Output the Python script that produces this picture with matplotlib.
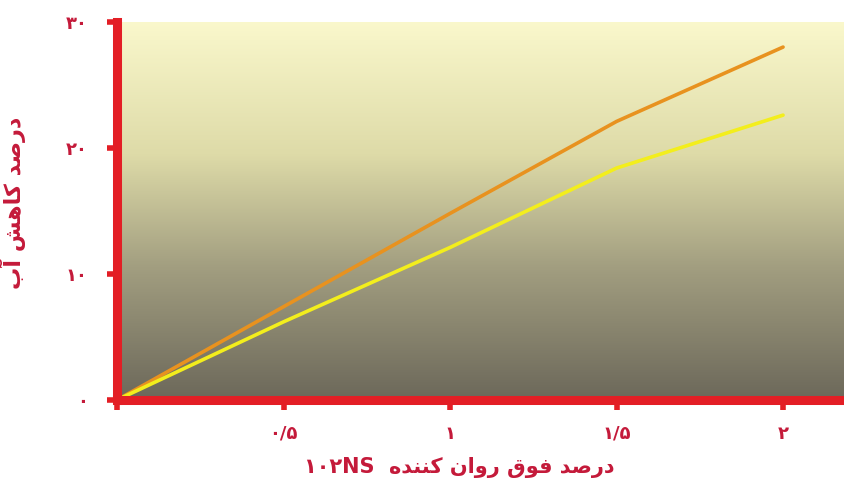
"""
درصد کاهش آب در برابر درصد فوق روان کننده
"""
import matplotlib
matplotlib.use("Agg")
import matplotlib.pyplot as plt
import numpy as np
from matplotlib.colors import LinearSegmentedColormap

# داده ها
x_vals = [0, 0.5, 1, 1.5, 2]
orange_vals = [0, 7.4, 14.8, 22.1, 28.0]
yellow_vals = [0, 6.2, 12.1, 18.4, 22.6]
x_ticks = [0, 0.5, 1, 1.5, 2]
x_tick_labels = ["", "۰/۵", "۱", "۱/۵", "۲"]
y_ticks = [0, 10, 20, 30]
y_tick_labels = ["۰", "۱۰", "۲۰", "۳۰"]

# شکل دهی دستی حروف فارسی (matplotlib خودش این کار را نمی کند)
FORMS = {
    "ا": ("\uFE8D", "\uFE8E", None, None),
    "آ": ("\uFE81", "\uFE82", None, None),
    "د": ("\uFEA9", "\uFEAA", None, None),
    "ر": ("\uFEAD", "\uFEAE", None, None),
    "و": ("\uFEED", "\uFEEE", None, None),
    "ب": ("\uFE8F", "\uFE90", "\uFE91", "\uFE92"),
    "ص": ("\uFEB9", "\uFEBA", "\uFEBB", "\uFEBC"),
    "ش": ("\uFEB5", "\uFEB6", "\uFEB7", "\uFEB8"),
    "ف": ("\uFED1", "\uFED2", "\uFED3", "\uFED4"),
    "ق": ("\uFED5", "\uFED6", "\uFED7", "\uFED8"),
    "ک": ("\uFED9", "\uFEDA", "\uFEDB", "\uFEDC"),
    "ن": ("\uFEE5", "\uFEE6", "\uFEE7", "\uFEE8"),
    "ه": ("\uFEE9", "\uFEEA", "\uFEEB", "\uFEEC"),
}


def dual(c):
    return c in FORMS and FORMS[c][2] is not None


def shape(text):
    out = []
    for i, c in enumerate(text):
        if c not in FORMS:
            out.append(c)
            continue
        prev = text[i - 1] if i > 0 else ""
        nxt = text[i + 1] if i < len(text) - 1 else ""
        jp = dual(prev)
        jn = dual(c) and nxt in FORMS
        iso, fin, ini, med = FORMS[c]
        if jp and jn:
            out.append(med)
        elif jp:
            out.append(fin)
        elif jn:
            out.append(ini)
        else:
            out.append(iso)
    return "".join(out)[::-1]


y_label = shape("درصد کاهش آب")
x_label = "۱۰۲NS  " + shape("درصد فوق روان کننده")

red = "#e31e25"
label_red = "#c41a3a"

plt.rcParams["font.family"] = ["DejaVu Sans"]

fig = plt.figure(figsize=(8.45, 4.86), dpi=100)
ax = fig.add_axes([0.1385, 0.177, 0.8615, 0.778])
ax.set_xlim(0, 2.186)
ax.set_ylim(0, 30)

# پس زمینه گرادیانی: روشن در بالا، تیره در پایین
cmap = LinearSegmentedColormap.from_list(
    "bg", [(0, "#faf8cc"), (0.35, "#dedba8"), (0.65, "#a29e80"), (1, "#6c685a")])
grad = np.linspace(0, 1, 256).reshape(-1, 1)
ax.imshow(grad, cmap=cmap, aspect="auto", extent=[0, 2.186, 0, 30],
          origin="upper", zorder=0)

ax.plot(x_vals, orange_vals, color="#e8921f", lw=2.6, zorder=3,
        solid_capstyle="round")
ax.plot(x_vals, yellow_vals, color="#f3ee1c", lw=2.6, zorder=3,
        solid_capstyle="round")

for s in ["top", "right"]:
    ax.spines[s].set_visible(False)
for s in ["left", "bottom"]:
    ax.spines[s].set_color(red)
    ax.spines[s].set_linewidth(6.5)
    ax.spines[s].set_zorder(5)

ax.set_xticks(x_ticks)
ax.set_xticklabels(x_tick_labels)
ax.set_yticks(y_ticks)
ax.set_yticklabels(y_tick_labels)
ax.tick_params(axis="both", direction="out", length=7, width=4, color=red,
               labelcolor=label_red, labelsize=13)
ax.tick_params(axis="x", pad=11)
ax.tick_params(axis="y", pad=14)
for t in ax.get_xticklabels() + ax.get_yticklabels():
    t.set_fontweight("bold")

ax.set_xlabel(x_label, color=label_red, fontsize=15, fontweight="bold")
ax.xaxis.set_label_coords(0.47, -0.15)
ax.set_ylabel(y_label, color=label_red, fontsize=16, fontweight="bold")
ax.yaxis.set_label_coords(-0.125, 0.52)

fig.savefig("out.png", dpi=100)
